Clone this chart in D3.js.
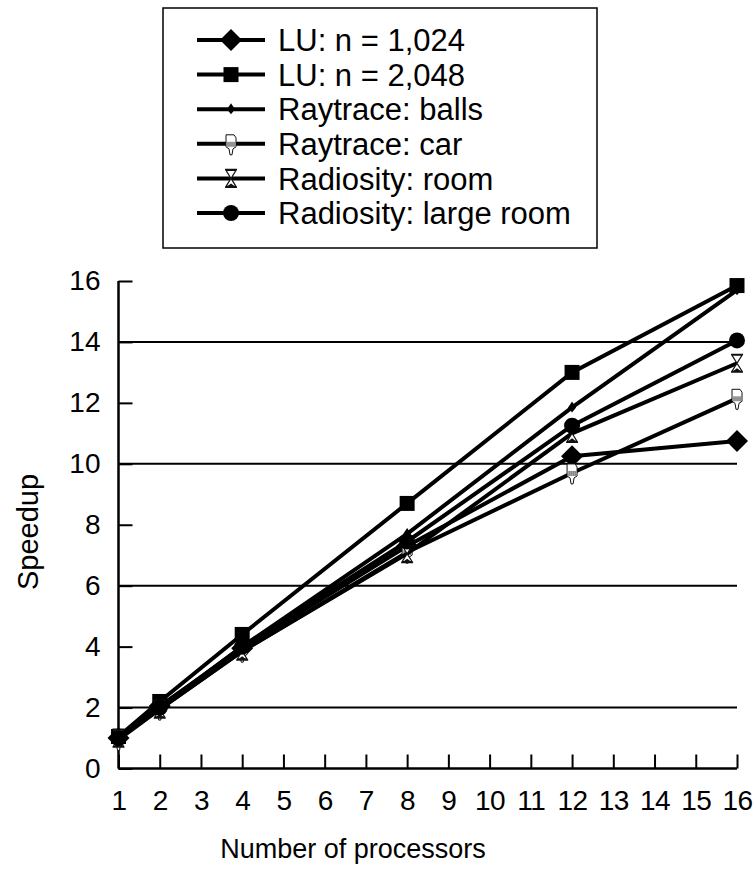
<!DOCTYPE html>
<html><head><meta charset="utf-8">
<script src="https://cdn.jsdelivr.net/npm/d3@7"></script>
<style>body{margin:0;background:#fff;} svg{display:block;} text{font-family:Arial,"Liberation Sans",sans-serif;fill:#000;}</style>
</head><body><svg id="c" width="754" height="873"></svg>
<script>
const processors = [1, 2, 4, 8, 12, 16];
const xTicks = d3.range(1, 17);
const yTicks = [0, 2, 4, 6, 8, 10, 12, 14, 16];
const gridValues = [2, 6, 10, 14];
const seriesNames = ["LU: n = 1,024", "LU: n = 2,048", "Raytrace: balls", "Raytrace: car", "Radiosity: room", "Radiosity: large room"];
const markerTypes = ["diamond", "square", "smalldiamond", "hand", "hourglass", "circle"];
const lu1024 = [1.0, 2.05, 3.95, 7.3, 10.25, 10.75];
const lu2048 = [1.05, 2.2, 4.4, 8.7, 13.0, 15.85];
const balls = [1.0, 2.0, 4.0, 7.7, 11.85, 15.7];
const car = [0.95, 1.95, 3.85, 7.1, 9.7, 12.15];
const room = [1.0, 1.95, 3.85, 7.05, 11.0, 13.3];
const largeRoom = [1.0, 2.0, 4.0, 7.45, 11.25, 14.05];
const seriesValues = [lu1024, lu2048, balls, car, room, largeRoom];

const svg = d3.select("#c");
const x = d3.scaleLinear().domain([1, 16]).range([118.5, 737]);
const y = d3.scaleLinear().domain([0, 16]).range([768.5, 281]);

// gridlines
svg.append("g").selectAll("line").data(gridValues).join("line")
  .attr("x1", x(1)).attr("x2", x(16)).attr("y1", d => y(d)).attr("y2", d => y(d))
  .attr("stroke", "#000").attr("stroke-width", 2);

// axes
const yAxis = svg.append("g").attr("transform", `translate(${x(1)},0)`)
  .call(d3.axisLeft(y).tickValues(yTicks).tickSize(-14).tickPadding(18).tickFormat(d3.format("d")));
yAxis.selectAll("text").style("font-size", "28px");
yAxis.selectAll("line").attr("stroke-width", 2);
yAxis.select(".domain").attr("stroke-width", 2.5).attr("d", `M0,${y(16)}V${y(0)}`);

const xAxis = svg.append("g").attr("transform", `translate(0,${y(0)})`)
  .call(d3.axisBottom(x).tickValues(xTicks).tickSize(-14).tickPadding(22).tickFormat(d3.format("d")));
xAxis.selectAll("text").style("font-size", "28px").attr("letter-spacing", "-0.5px");
xAxis.selectAll("line").attr("stroke-width", 2);
xAxis.select(".domain").attr("stroke-width", 2.5).attr("d", `M${x(1)},0H${x(16)}`);

// axis titles
svg.append("text").attr("x", 353).attr("y", 858).attr("text-anchor", "middle").style("font-size", "27px").text("Number of processors");
svg.append("text").attr("transform", "translate(38,532) rotate(-90)").attr("text-anchor", "middle").style("font-size", "29px").text("Speedup");

// markers
function drawMarker(g, type) {
  if (type === "diamond") g.append("path").attr("d", "M0,-11L11,0L0,11L-11,0Z").attr("fill", "#000");
  else if (type === "square") g.append("rect").attr("x", -7.5).attr("y", -7.5).attr("width", 15).attr("height", 15).attr("fill", "#000");
  else if (type === "circle") g.append("circle").attr("r", 8).attr("fill", "#000");
  else if (type === "smalldiamond") g.append("path").attr("d", "M0,-6L4,0L0,5L-4,0Z").attr("fill", "#000");
  else if (type === "hand") {
    g.append("path").attr("d", "M-5,-9 L3,-9 L5,-6 L5,3 L2,5 L1,11 L-1,11 L-2,5 L-5,3 Z")
      .attr("fill", "#fff").attr("stroke", "#111").attr("stroke-width", 1);
    g.append("path").attr("d", "M-3,-2 L-3,3 M-1,-2 L-1,3 M1,-2 L1,3 M3,-2 L3,3")
      .attr("stroke", "#111").attr("stroke-width", 0.9);
  } else if (type === "hourglass") {
    g.append("path").attr("d", "M-6,-9 L6,-9 M-6,9 L6,9 M-5,-8 L5,-8 L0,0 L5,8 L-5,8 L0,0 Z")
      .attr("fill", "#fff").attr("stroke", "#111").attr("stroke-width", 1.2);
    g.append("path").attr("d", "M-4,8 L0,5 L4,8 Z").attr("fill", "#111");
  }
}

const line = d3.line().x((d, i) => x(processors[i])).y(d => y(d));
seriesValues.forEach((vals, si) => {
  const g = svg.append("g");
  g.append("path").datum(vals).attr("d", line).attr("fill", "none").attr("stroke", "#000").attr("stroke-width", 4);
  vals.forEach((v, i) => {
    const mg = g.append("g").attr("transform", `translate(${x(processors[i])},${y(v)})`);
    drawMarker(mg, markerTypes[si]);
  });
});

// legend
const lg = svg.append("g");
lg.append("rect").attr("x", 163).attr("y", 8).attr("width", 434).attr("height", 240)
  .attr("fill", "#fff").attr("stroke", "#000").attr("stroke-width", 1.5);
seriesNames.forEach((name, i) => {
  const cy = 40 + i * 34.6;
  lg.append("line").attr("x1", 197).attr("x2", 265).attr("y1", cy).attr("y2", cy).attr("stroke", "#000").attr("stroke-width", 4);
  drawMarker(lg.append("g").attr("transform", `translate(231,${cy})`), markerTypes[i]);
  lg.append("text").attr("x", 278).attr("y", cy).attr("dy", "0.36em").style("font-size", "31px").text(name);
});
</script></body></html>
